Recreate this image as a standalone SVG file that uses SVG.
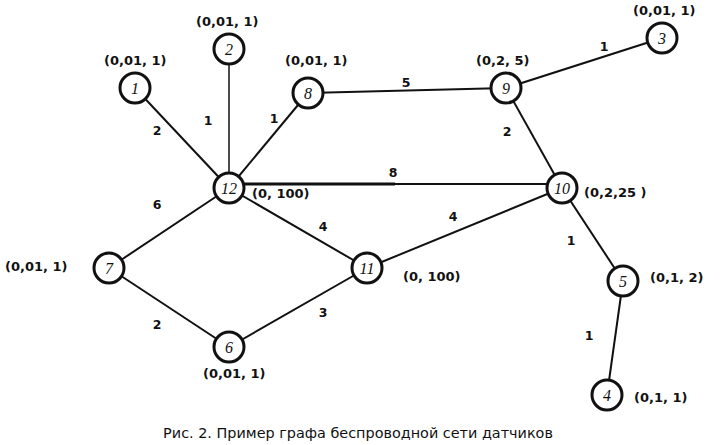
<svg xmlns="http://www.w3.org/2000/svg" width="723" height="445" viewBox="0 0 723 445">
<style>
.e{stroke:#111;stroke-width:2;fill:none}
.n circle{fill:#fff;stroke:#111;stroke-width:3}
.n text{font-family:"Liberation Serif",serif;font-style:italic;font-size:16px;text-anchor:middle;fill:#111}
.l{font-family:"DejaVu Sans",Verdana,sans-serif;font-weight:bold;font-size:13px;fill:#111}
.w{font-family:"DejaVu Sans",Verdana,sans-serif;font-weight:bold;font-size:12.5px;fill:#111;text-anchor:middle}
.c{font-family:"DejaVu Sans",sans-serif;font-size:14.4px;fill:#111;text-anchor:middle}
</style>
<rect width="723" height="445" fill="#fff"/>
<g id="edges">
<line class="e" x1="135" y1="88" x2="229" y2="188"/>
<line class="e" x1="229" y1="49" x2="229" y2="188" style="stroke-width:1.5"/>
<line class="e" x1="308" y1="93" x2="229" y2="188"/>
<line class="e" x1="308" y1="93" x2="506" y2="88"/>
<line class="e" x1="506" y1="88" x2="662" y2="38"/>
<line class="e" x1="506" y1="88" x2="562" y2="188"/>
<line class="e" x1="229" y1="184" x2="395" y2="184" style="stroke-width:3.2"/>
<line class="e" x1="395" y1="184" x2="562" y2="184"/>
<line class="e" x1="229" y1="188" x2="109" y2="268"/>
<line class="e" x1="229" y1="188" x2="367" y2="268"/>
<line class="e" x1="367" y1="268" x2="562" y2="188"/>
<line class="e" x1="109" y1="268" x2="229" y2="347"/>
<line class="e" x1="229" y1="347" x2="367" y2="268"/>
<line class="e" x1="562" y1="188" x2="623" y2="281"/>
<line class="e" x1="623" y1="281" x2="607" y2="395"/>
</g>
<g id="weights">
<text class="w" x="157" y="135">2</text>
<text class="w" x="208" y="125">1</text>
<text class="w" x="274" y="123">1</text>
<text class="w" x="406" y="87">5</text>
<text class="w" x="604" y="51">1</text>
<text class="w" x="507" y="136">2</text>
<text class="w" x="393" y="177">8</text>
<text class="w" x="157" y="209">6</text>
<text class="w" x="323" y="231">4</text>
<text class="w" x="453" y="221">4</text>
<text class="w" x="571" y="245">1</text>
<text class="w" x="157" y="329">2</text>
<text class="w" x="323" y="317">3</text>
<text class="w" x="589" y="340">1</text>
</g>
<g id="node1" class="n"><circle cx="135" cy="88" r="15"/><text x="135" y="94">1</text></g>
<g id="node2" class="n"><circle cx="229" cy="49" r="15"/><text x="229" y="55">2</text></g>
<g id="node3" class="n"><circle cx="662" cy="38" r="15"/><text x="662" y="44">3</text></g>
<g id="node4" class="n"><circle cx="607" cy="395" r="15"/><text x="607" y="401">4</text></g>
<g id="node5" class="n"><circle cx="623" cy="281" r="15"/><text x="623" y="287">5</text></g>
<g id="node6" class="n"><circle cx="229" cy="347" r="15"/><text x="229" y="353">6</text></g>
<g id="node7" class="n"><circle cx="109" cy="268" r="15"/><text x="109" y="274">7</text></g>
<g id="node8" class="n"><circle cx="308" cy="93" r="15"/><text x="308" y="99">8</text></g>
<g id="node9" class="n"><circle cx="506" cy="88" r="15"/><text x="506" y="94">9</text></g>
<g id="node10" class="n"><circle cx="562" cy="188" r="15"/><text x="562" y="194">10</text></g>
<g id="node11" class="n"><circle cx="367" cy="268" r="15"/><text x="367" y="274">11</text></g>
<g id="node12" class="n"><circle cx="229" cy="188" r="15"/><text x="229" y="194">12</text></g>
<g id="labels">
<text class="l" x="104" y="65">(0,01, 1)</text>
<text class="l" x="196" y="26">(0,01, 1)</text>
<text class="l" x="285" y="65">(0,01, 1)</text>
<text class="l" x="633" y="15">(0,01, 1)</text>
<text class="l" x="476" y="65">(0,2, 5)</text>
<text class="l" x="252" y="198">(0, 100)</text>
<text class="l" x="584" y="197">(0,2,25 )</text>
<text class="l" x="5" y="271">(0,01, 1)</text>
<text class="l" x="403" y="281">(0, 100)</text>
<text class="l" x="203" y="378">(0,01, 1)</text>
<text class="l" x="650" y="282">(0,1, 2)</text>
<text class="l" x="634" y="402">(0,1, 1)</text>
</g>
<text class="c" x="358" y="438">Рис. 2. Пример графа беспроводной сети датчиков</text>
</svg>
